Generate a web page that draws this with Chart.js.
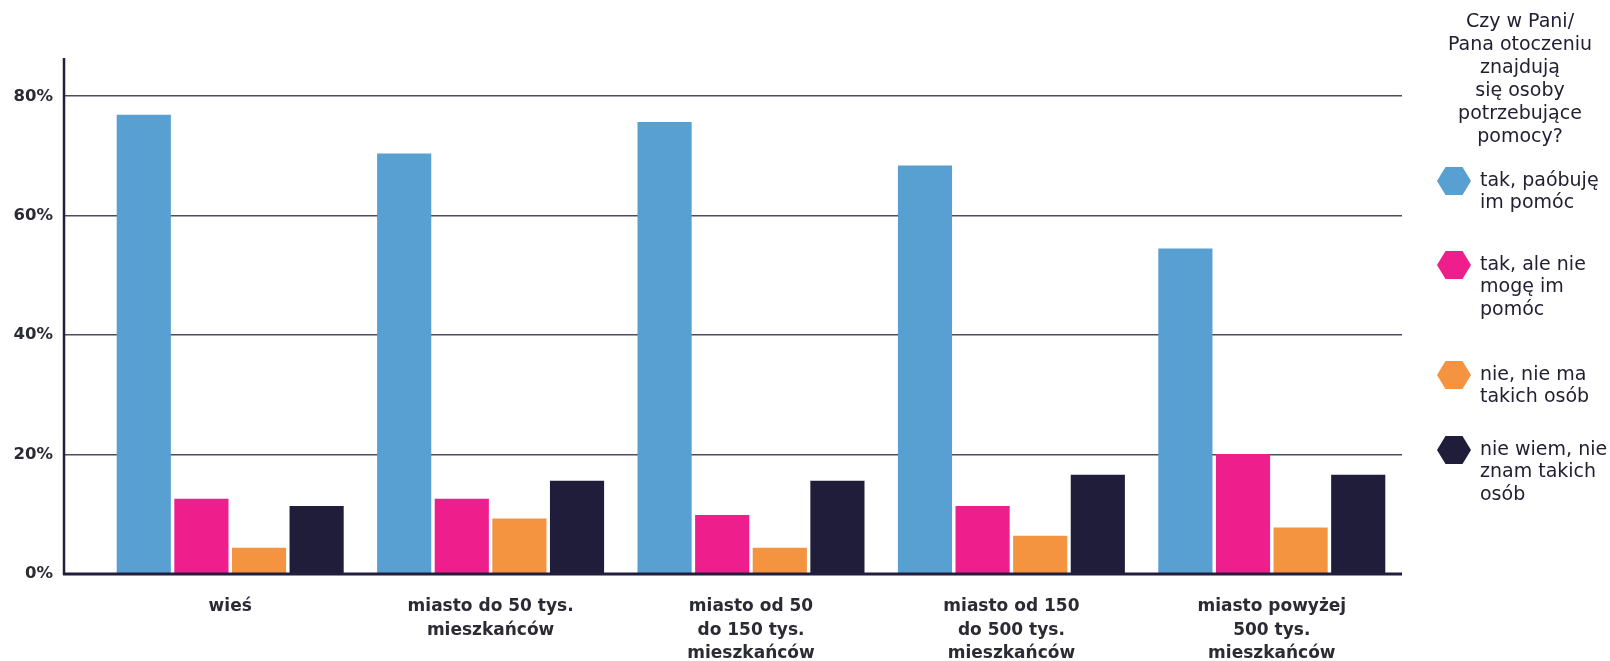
<!DOCTYPE html>
<html>
<head>
<meta charset="utf-8">
<script src="https://cdn.jsdelivr.net/npm/chart.js@4.4.1/dist/chart.umd.min.js"></script>
<style>
  html, body { margin: 0; padding: 0; background: #fff; }
  canvas { display: block; }
</style>
</head>
<body>
<canvas id="myChart" width="1610" height="661"></canvas>
<script>
// categories (wrapped the way they are on the picture)
const categories = [
  ["wieś"],
  ["miasto do 50 tys.", "mieszkańców"],
  ["miasto od 50", "do 150 tys.", "mieszkańców"],
  ["miasto od 150", "do 500 tys.", "mieszkańców"],
  ["miasto powyżej", "500 tys.", "mieszkańców"],
];

const legendTitle = ["Czy w Pani/", "Pana otoczeniu", "znajdują", "się osoby", "potrzebujące", "pomocy?"];

const seriesNames = [
  ["tak, paóbuję", "im pomóc"],
  ["tak, ale nie", "mogę im", "pomóc"],
  ["nie, nie ma", "takich osób"],
  ["nie wiem, nie", "znam takich", "osób"],
];
const seriesColors = ["#589fd2", "#ee1f8c", "#f49340", "#201d3b"];

// values in %
const takPomagam = [76.9, 70.4, 75.7, 68.4, 54.5];
const takNieMoge = [12.6, 12.6, 9.9, 11.4, 20.1];
const nieMa = [4.4, 9.3, 4.4, 6.4, 7.8];
const nieWiem = [11.4, 15.6, 15.6, 16.6, 16.6];
const seriesValues = [takPomagam, takNieMoge, nieMa, nieWiem];

const yTicks = [0, 20, 40, 60, 80];

const textColor = "#222033";
const gridColor = "#4d4a63";

// y axis line + thick baseline, both start left of the plot like in the picture
const axisLines = {
  id: "axisLines",
  afterDatasetsDraw(chart) {
    const { ctx, chartArea } = chart;
    const x0 = chartArea.left - 36;
    ctx.save();
    ctx.strokeStyle = "#221f3c";
    ctx.lineWidth = 2.5;
    ctx.beginPath();
    ctx.moveTo(x0, chartArea.top);
    ctx.lineTo(x0, chartArea.bottom + 1);
    ctx.stroke();
    ctx.lineWidth = 3;
    ctx.beginPath();
    ctx.moveTo(x0 - 1, chartArea.bottom);
    ctx.lineTo(chartArea.right, chartArea.bottom);
    ctx.stroke();
    ctx.restore();
  },
};

function hexagon(ctx, x, y, w, h) {
  ctx.beginPath();
  ctx.moveTo(x - w, y);
  ctx.lineTo(x - w * 0.5, y - h);
  ctx.lineTo(x + w * 0.5, y - h);
  ctx.lineTo(x + w, y);
  ctx.lineTo(x + w * 0.5, y + h);
  ctx.lineTo(x - w * 0.5, y + h);
  ctx.closePath();
}

// legend on the right with hexagon markers
const hexLegend = {
  id: "hexLegend",
  afterDraw(chart, args, opts) {
    const ctx = chart.ctx;
    ctx.save();
    ctx.fillStyle = textColor;
    ctx.font = opts.font;
    ctx.textBaseline = "middle";
    ctx.textAlign = "center";
    legendTitle.forEach((line, i) => {
      ctx.fillText(line, opts.titleX, opts.titleY + i * opts.titleLineHeight);
    });
    chart.data.datasets.forEach((ds, i) => {
      const y = opts.itemY[i];
      ctx.fillStyle = ds.backgroundColor;
      hexagon(ctx, opts.markerX, y, 17, 14);
      ctx.fill();
      ctx.fillStyle = textColor;
      ctx.textAlign = "left";
      seriesNames[i].forEach((line, j) => {
        ctx.fillText(line, opts.textX, y + j * opts.lineHeight);
      });
    });
    ctx.restore();
  },
};

const ctx = document.getElementById("myChart").getContext("2d");

const datasets = seriesValues.map((vals, i) => ({
  label: seriesNames[i].join(" "),
  data: vals,
  backgroundColor: seriesColors[i],
  categoryPercentage: 0.885,
  barPercentage: 0.94,
}));

new Chart(ctx, {
  type: "bar",
  data: { labels: categories, datasets: datasets },
  options: {
    responsive: false,
    animation: false,
    layout: { padding: { left: 0, right: 208, top: 58, bottom: 0 } },
    plugins: {
      legend: { display: false },
      tooltip: { enabled: false },
      hexLegend: {
        font: "19px 'DejaVu Sans'",
        titleLineHeight: 23,
        lineHeight: 22.5,
        titleX: 1520,
        titleY: 22,
        markerX: 1454,
        textX: 1480,
        itemY: [181, 265, 375, 450],
      },
    },
    scales: {
      x: {
        grid: { display: false },
        border: { display: false },
        ticks: {
          color: "#2b2b33",
          font: { family: "'DejaVu Sans'", size: 17, weight: "bold", lineHeight: 1.38 },
          padding: 13,
          maxRotation: 0,
          autoSkip: false,
        },
        afterFit(scale) {
          scale.height = 87;
        },
      },
      y: {
        min: 0,
        max: 86.4,
        border: { display: false },
        grid: {
          color: gridColor,
          lineWidth: 1.5,
          drawTicks: true,
          tickLength: 36,
          tickColor: gridColor,
        },
        ticks: {
          stepSize: 20,
          includeBounds: false,
          padding: 11,
          color: "#2b2b33",
          font: { family: "'DejaVu Sans'", size: 16.5, weight: "bold" },
          callback: (v) => v + "%",
        },
        afterBuildTicks(scale) {
          scale.ticks = yTicks.map((v) => ({ value: v }));
        },
        afterFit(scale) {
          scale.width = 100;
        },
      },
    },
  },
  plugins: [axisLines, hexLegend],
});
</script>
</body>
</html>
